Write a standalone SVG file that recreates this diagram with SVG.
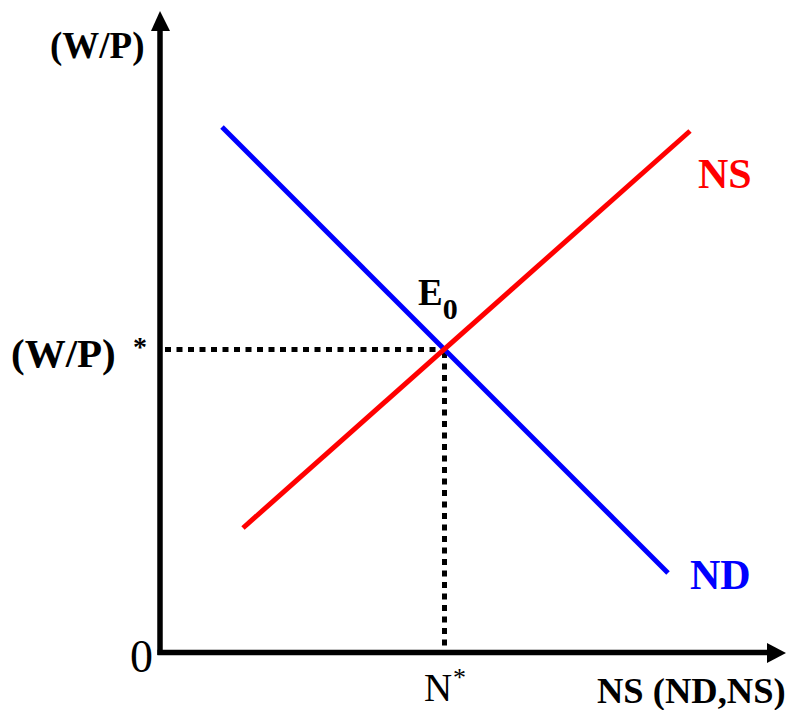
<svg xmlns="http://www.w3.org/2000/svg" width="791" height="710" viewBox="0 0 791 710">
<style>
.t{font-family:"Liberation Serif","Times New Roman",serif;fill:#000}
.b{font-weight:bold}
.axis{stroke:#000;stroke-width:5.5;fill:none}
.dot{stroke:#000;stroke-width:5;stroke-dasharray:6 5.5;fill:none}
</style>
<rect width="791" height="710" fill="#fff"/>
<g id="axes">
<line class="axis" x1="160" y1="655" x2="160" y2="28"/>
<polygon points="151,31 160,11 170,31" fill="#000"/>
<line class="axis" x1="157.5" y1="652.5" x2="770" y2="652.5"/>
<polygon points="767,643 786,653 767,663" fill="#000"/>
</g>
<g id="connectors">
<line class="dot" x1="165" y1="349.5" x2="442" y2="349.5"/>
<line class="dot" x1="444.5" y1="352" x2="444.5" y2="650"/>
</g>
<g id="ND">
<line x1="222" y1="127" x2="668" y2="573" stroke="#0000ff" stroke-width="5"/>
<text class="t b" x="690" y="589" font-size="42" style="fill:#0000ff">ND</text>
</g>
<g id="NS">
<line x1="243" y1="528" x2="690" y2="131" stroke="#ff0000" stroke-width="5"/>
<text class="t b" x="698" y="188" font-size="42" style="fill:#ff0000">NS</text>
</g>
<g id="E0">
<text class="t b" x="418" y="305" font-size="37">E<tspan font-size="30" dy="14">0</tspan></text>
</g>
<g id="labels">
<text class="t b" x="50" y="58" font-size="37">(W/P)</text>
<text class="t b" x="11" y="367" font-size="41">(W/P)</text>
<text class="t b" x="133" y="356" font-size="28">*</text>
<text class="t" x="130" y="672" font-size="46">0</text>
<text class="t" x="424" y="701" font-size="39">N</text>
<text class="t" x="453" y="686" font-size="26">*</text>
<text class="t b" x="597" y="703" font-size="36.5">NS (ND,NS)</text>
</g>
</svg>
